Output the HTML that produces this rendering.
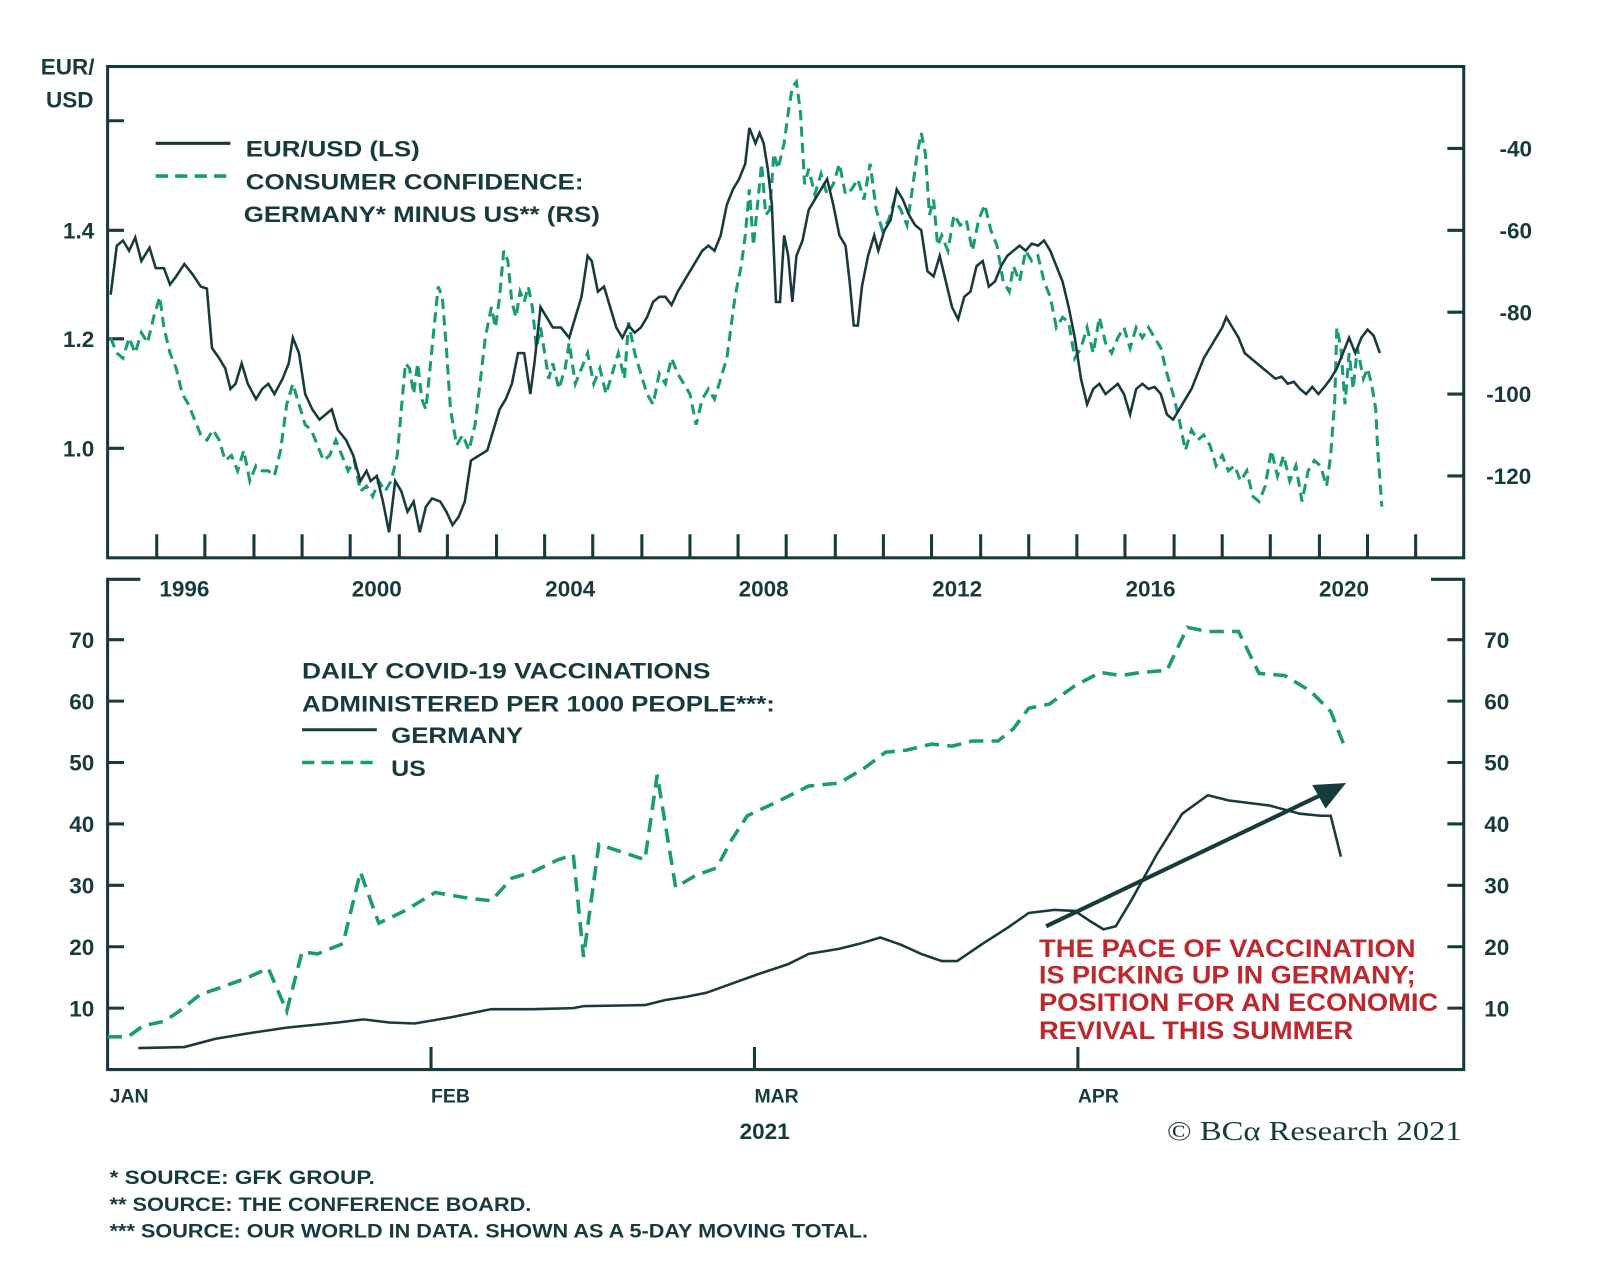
<!DOCTYPE html>
<html><head><meta charset="utf-8"><style>
html,body{margin:0;padding:0;background:#fff;width:1600px;height:1263px;overflow:hidden}
svg{display:block}
text{font-family:"Liberation Sans",Arial,sans-serif;font-weight:bold;fill:#173a3d}
</style></head><body>
<svg width="1600" height="1263" viewBox="0 0 1563 1234" xmlns="http://www.w3.org/2000/svg">
<g stroke="#173a3d" stroke-width="3" fill="none">
<rect x="105" y="65" width="1325" height="480"/>
<path d="M105 118h16M105 225h16M105 331h16M105 438h16"/>
<path d="M1430 145h-16M1430 225h-16M1430 305h-16M1430 385h-16M1430 465h-16"/>
<path d="M153 545v-23M200 545v-23M248 545v-23M295 545v-23M342 545v-23M390 545v-23M437 545v-23M485 545v-23M532 545v-23M579 545v-23M627 545v-23M674 545v-23M721 545v-23M768 545v-23M816 545v-23M863 545v-23M910 545v-23M958 545v-23M1005 545v-23M1052 545v-23M1099 545v-23M1147 545v-23M1194 545v-23M1241 545v-23M1289 545v-23M1336 545v-23M1383 545v-23"/>
<path d="M137 566H105V1045H1430V566H1398"/>
<path d="M105 625h16M105 685h16M105 745h16M105 805h16M105 865h16M105 925h16M105 985h16"/>
<path d="M1430 625h-16M1430 685h-16M1430 745h-16M1430 805h-16M1430 865h-16M1430 925h-16M1430 985h-16"/>
<path d="M421 1045v-22M737 1045v-22M1053 1045v-22"/>
</g>
<g font-size="22">
<text x="66" y="73" text-anchor="middle">EUR/</text>
<text x="68" y="105" text-anchor="middle">USD</text>
<text x="92" y="233" text-anchor="end">1.4</text>
<text x="92" y="339" text-anchor="end">1.2</text>
<text x="92" y="446" text-anchor="end">1.0</text>
<text x="1465" y="153">-40</text><text x="1465" y="233">-60</text><text x="1465" y="313">-80</text><text x="1452" y="393">-100</text><text x="1452" y="473">-120</text>
<text x="180" y="583" text-anchor="middle">1996</text><text x="368" y="583" text-anchor="middle">2000</text><text x="557" y="583" text-anchor="middle">2004</text><text x="746" y="583" text-anchor="middle">2008</text><text x="935" y="583" text-anchor="middle">2012</text><text x="1124" y="583" text-anchor="middle">2016</text><text x="1313" y="583" text-anchor="middle">2020</text>
<text x="92" y="633" text-anchor="end">70</text><text x="92" y="693" text-anchor="end">60</text><text x="92" y="753" text-anchor="end">50</text><text x="92" y="813" text-anchor="end">40</text><text x="92" y="873" text-anchor="end">30</text><text x="92" y="933" text-anchor="end">20</text><text x="92" y="993" text-anchor="end">10</text>
<text x="1450" y="633">70</text><text x="1450" y="693">60</text><text x="1450" y="753">50</text><text x="1450" y="813">40</text><text x="1450" y="873">30</text><text x="1450" y="933">20</text><text x="1450" y="993">10</text>
<text x="240" y="153" textLength="170" lengthAdjust="spacingAndGlyphs">EUR/USD (LS)</text>
<text x="240" y="185" textLength="330" lengthAdjust="spacingAndGlyphs">CONSUMER CONFIDENCE:</text>
<text x="238" y="217" textLength="348" lengthAdjust="spacingAndGlyphs">GERMANY* MINUS US** (RS)</text>
<text x="295" y="663" textLength="399" lengthAdjust="spacingAndGlyphs">DAILY COVID-19 VACCINATIONS</text>
<text x="295" y="695" textLength="462" lengthAdjust="spacingAndGlyphs">ADMINISTERED PER 1000 PEOPLE***:</text>
<text x="382" y="726" textLength="129" lengthAdjust="spacingAndGlyphs">GERMANY</text>
<text x="382" y="758" textLength="34" lengthAdjust="spacingAndGlyphs">US</text>
<text x="747" y="1113" text-anchor="middle">2021</text>
</g>
<g font-size="19">
<text x="107" y="1077">JAN</text><text x="421" y="1077">FEB</text><text x="737" y="1077">MAR</text><text x="1053" y="1077">APR</text>
<text x="107" y="1157" textLength="259" lengthAdjust="spacingAndGlyphs">*   SOURCE: GFK GROUP.</text>
<text x="107" y="1183" textLength="412" lengthAdjust="spacingAndGlyphs">**  SOURCE: THE CONFERENCE BOARD.</text>
<text x="107" y="1209" textLength="741" lengthAdjust="spacingAndGlyphs">*** SOURCE: OUR WORLD IN DATA. SHOWN AS A 5-DAY MOVING TOTAL.</text>
</g>
<text x="1140" y="1114" font-size="27" textLength="288" lengthAdjust="spacingAndGlyphs" style="font-family:'Liberation Serif',serif;font-weight:normal">© BCα Research 2021</text>
<g font-size="24">
<text x="1015" y="935" textLength="368" lengthAdjust="spacingAndGlyphs" style="fill:#c0272d">THE PACE OF VACCINATION</text>
<text x="1015" y="961" textLength="368" lengthAdjust="spacingAndGlyphs" style="fill:#c0272d">IS PICKING UP IN GERMANY;</text>
<text x="1015" y="988" textLength="390" lengthAdjust="spacingAndGlyphs" style="fill:#c0272d">POSITION FOR AN ECONOMIC</text>
<text x="1015" y="1015" textLength="307" lengthAdjust="spacingAndGlyphs" style="fill:#c0272d">REVIVAL THIS SUMMER</text>
</g>
<path d="M152 140h73M295 713h73" stroke="#173a3d" stroke-width="3"/>
<path d="M152 172h73M295 745h73" stroke="#1a9b78" stroke-width="3.5" stroke-dasharray="12,7"/>
<polyline fill="none" stroke="#1a9b78" stroke-width="3" stroke-dasharray="10,6" points="108,330 114,345 120,350 126,330 132,345 138,325 144,335 150,310 156,290 160,320 166,345 172,360 178,385 184,395 190,410 196,425 202,430 208,420 214,430 220,450 226,445 232,460 238,440 244,470 250,455 256,460 262,460 268,465 274,440 280,395 286,375 292,395 298,415 304,420 310,435 316,450 322,445 328,430 334,445 340,460 346,450 352,480 358,475 364,485 370,470 376,480 382,470 388,445 392,400 396,355 400,360 404,385 408,355 412,390 416,400 420,360 424,320 428,280 432,290 436,340 440,400 446,435 452,425 458,440 464,415 470,365 474,330 480,300 484,320 488,290 492,245 496,255 500,295 504,310 508,285 512,295 516,280 520,300 524,340 528,320 532,345 536,370 540,355 546,380 552,360 556,335 562,375 568,360 574,345 580,375 586,360 592,385 598,365 604,345 610,370 614,315 620,345 626,365 632,385 638,395 644,365 650,375 656,350 662,365 668,375 674,385 680,415 686,390 692,380 698,390 704,370 710,350 714,320 718,290 724,260 728,230 732,185 736,240 740,200 744,160 748,210 752,205 756,150 760,165 766,140 770,110 774,85 778,80 782,110 786,180 790,165 796,190 802,170 808,190 814,180 820,160 826,190 832,185 838,175 844,195 850,160 856,205 862,225 868,215 874,195 880,205 886,220 892,180 896,150 900,130 904,150 908,210 912,195 916,240 920,230 926,245 932,210 938,220 944,215 950,245 956,215 962,200 968,225 974,240 980,275 986,285 990,260 996,275 1002,245 1008,255 1014,250 1020,275 1026,290 1032,320 1038,310 1044,315 1050,350 1056,340 1062,320 1068,345 1074,310 1080,335 1086,345 1092,330 1098,320 1104,340 1110,320 1116,330 1122,320 1128,330 1134,340 1140,365 1146,385 1152,410 1158,440 1164,420 1170,430 1176,425 1182,435 1188,455 1194,445 1200,460 1206,455 1212,470 1218,460 1224,485 1230,490 1236,475 1242,440 1248,465 1254,445 1260,470 1266,455 1272,490 1278,460 1284,450 1290,455 1296,475 1300,445 1304,390 1306,320 1310,340 1314,395 1318,345 1322,380 1326,340 1332,370 1336,360 1340,375 1344,400 1346,440 1350,495"/>
<polyline fill="none" stroke="#173a3d" stroke-width="2.5" points="108,288 114,240 120,235 126,245 132,232 138,255 146,242 152,262 160,262 166,278 172,270 180,258 188,268 196,280 202,282 207,340 214,350 220,360 225,380 230,375 236,355 242,375 250,390 256,380 262,375 268,385 276,370 282,355 286,330 292,345 298,385 305,400 312,410 318,405 324,400 330,420 338,430 345,445 352,470 358,460 362,470 368,465 374,490 380,520 386,470 392,480 398,500 404,490 410,520 416,495 422,487 430,490 436,500 442,513 448,505 454,490 460,450 468,445 476,440 482,420 488,400 494,390 500,375 506,345 512,345 518,385 522,355 528,300 534,310 540,320 548,320 556,330 562,310 568,290 574,250 578,255 584,285 590,280 596,300 602,320 608,330 614,318 620,325 626,320 632,310 638,295 644,290 650,290 656,298 662,285 668,275 674,265 680,255 686,245 692,240 698,245 704,230 710,200 716,185 722,175 728,160 732,125 738,140 742,130 746,140 750,165 754,200 758,295 762,295 766,230 770,250 774,295 778,250 784,235 790,205 796,195 802,185 808,175 814,200 820,230 826,240 830,275 834,318 838,318 842,280 848,250 854,230 858,245 864,225 870,215 876,185 882,195 888,210 894,220 900,225 906,265 912,270 918,250 924,275 930,300 936,312 942,290 948,285 954,260 960,255 966,280 972,275 978,260 984,250 990,245 996,240 1002,245 1008,238 1014,240 1020,235 1026,245 1032,260 1038,275 1044,300 1050,330 1056,370 1062,395 1068,380 1074,375 1080,385 1086,380 1092,375 1098,385 1104,405 1110,380 1116,375 1122,380 1128,378 1134,385 1140,405 1146,410 1152,400 1158,390 1164,380 1170,365 1176,350 1182,340 1188,330 1194,320 1198,310 1204,320 1210,330 1216,345 1222,350 1228,355 1234,360 1240,365 1246,370 1252,368 1258,375 1264,373 1270,380 1276,385 1282,378 1288,385 1294,378 1300,370 1306,360 1312,345 1318,330 1324,345 1330,330 1336,322 1342,328 1348,345"/>
<polyline fill="none" stroke="#1a9b78" stroke-width="3.5" stroke-dasharray="14,8" points="105,1013 125,1013 140,1002 160,998 175,988 195,972 215,965 240,956 262,946 280,988 295,930 310,932 335,922 352,852 370,902 395,890 425,872 460,878 480,880 500,858 520,852 545,840 560,835 570,935 585,825 600,830 630,840 642,757 660,867 680,855 700,848 715,820 730,797 760,783 790,768 820,765 845,750 865,735 885,733 910,727 930,729 950,724 975,724 990,712 1005,692 1025,688 1050,670 1075,657 1095,660 1115,657 1140,655 1160,613 1180,617 1210,617 1230,658 1255,660 1280,675 1300,695 1315,733"/>
<polyline fill="none" stroke="#173a3d" stroke-width="2.5" points="135,1024 180,1023 210,1015 240,1010 280,1004 330,999 355,996 380,999 405,1000 440,994 480,986 520,986 560,985 570,983 630,982 650,977 670,974 690,970 715,961 740,952 770,942 790,932 820,927 840,922 860,916 880,923 900,932 920,939 935,939 960,922 985,906 1005,892 1030,889 1050,890 1065,900 1078,908 1090,905 1105,880 1130,835 1155,795 1180,777 1200,782 1240,787 1270,795 1290,797 1300,797 1310,837"/>
<path d="M1022 905L1292 776" stroke="#173a3d" stroke-width="4"/>
<path d="M1315 765L1282 767L1295 790Z" fill="#173a3d"/>
</svg>
</body></html>
